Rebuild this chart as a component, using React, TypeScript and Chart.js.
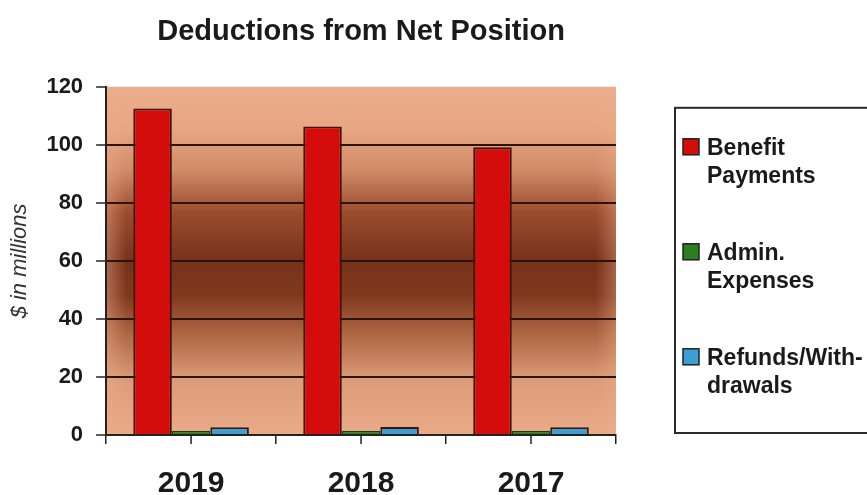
import React, { useEffect, useRef } from 'react';
import { Chart, registerables } from 'chart.js';

Chart.register(...registerables);

const categories = ['2019', '2018', '2017'];
const benefitPayments = [112.5, 106.3, 99.2];
const adminExpenses = [1.4, 1.4, 1.4];
const refundsWithdrawals = [2.7, 2.8, 2.7];
const seriesNames = ['Benefit Payments', 'Admin. Expenses', 'Refunds/Withdrawals'];
const legendLines = [
  ['Benefit', 'Payments'],
  ['Admin.', 'Expenses'],
  ['Refunds/With-', 'drawals'],
];
const yTicks = [0, 20, 40, 60, 80, 100, 120];
const chartTitle = 'Deductions from Net Position';
const yAxisTitle = '$ in millions';

const FONT = '"Liberation Sans", Arial, Helvetica, sans-serif';
const INK = '#1a1a1a';
const BAR_EDGE = '#3a160c';
const COLORS = ['#d40c0c', '#2e7d22', '#3b9fd6'];

const plotBackground = {
  id: 'plotBackground',
  beforeDraw(chart: any) {
    const { ctx, chartArea: a } = chart;
    if (!a) return;
    ctx.save();
    const g = ctx.createLinearGradient(0, a.top, 0, a.bottom);
    g.addColorStop(0, '#ebad8c');
    g.addColorStop(0.12, '#e8a783');
    g.addColorStop(0.24, '#d08b67');
    g.addColorStop(0.36, '#9c4c2e');
    g.addColorStop(0.5, '#76321a');
    g.addColorStop(0.6, '#80391d');
    g.addColorStop(0.72, '#b26a47');
    g.addColorStop(0.84, '#dc9b78');
    g.addColorStop(1, '#eaab89');
    ctx.fillStyle = g;
    ctx.fillRect(a.left, a.top, a.right - a.left, a.bottom - a.top);
    const h = ctx.createLinearGradient(a.left, 0, a.right, 0);
    h.addColorStop(0, 'rgba(236,172,138,0.45)');
    h.addColorStop(0.04, 'rgba(236,172,138,0)');
    h.addColorStop(0.96, 'rgba(236,172,138,0)');
    h.addColorStop(1, 'rgba(236,172,138,0.4)');
    ctx.fillStyle = h;
    ctx.fillRect(a.left, a.top, a.right - a.left, a.bottom - a.top);
    ctx.restore();
  },
};

const centerTicks = {
  id: 'centerTicks',
  afterDraw(chart: any) {
    const x = chart.scales.x;
    const { ctx } = chart;
    ctx.save();
    ctx.strokeStyle = '#222';
    ctx.lineWidth = 1.5;
    categories.forEach((_, i) => {
      const px = x.getPixelForValue(i);
      ctx.beginPath();
      ctx.moveTo(px, x.top);
      ctx.lineTo(px, x.top + 9);
      ctx.stroke();
    });
    ctx.restore();
  },
};

const boxedLegend = {
  id: 'boxedLegend',
  afterDraw(chart: any) {
    const { ctx, chartArea: a } = chart;
    const left = a.right + 59;
    const top = a.top + 21;
    const bottom = a.bottom - 2;
    const w = chart.width - left + 10;
    ctx.save();
    ctx.fillStyle = '#ffffff';
    ctx.fillRect(left, top, w, bottom - top);
    ctx.strokeStyle = '#2a2a2a';
    ctx.lineWidth = 2;
    ctx.strokeRect(left, top, w, bottom - top);
    ctx.font = `bold 23px ${FONT}`;
    ctx.textBaseline = 'alphabetic';
    ctx.textAlign = 'left';
    chart.data.datasets.forEach((ds: any, i: number) => {
      const base = top + 47 + i * 105;
      ctx.fillStyle = ds.backgroundColor;
      ctx.fillRect(left + 8, base - 16, 16, 16);
      ctx.strokeStyle = '#222';
      ctx.lineWidth = 1.5;
      ctx.strokeRect(left + 8, base - 16, 16, 16);
      ctx.fillStyle = INK;
      legendLines[i].forEach((line, j) => {
        ctx.fillText(line, left + 32, base + j * 28);
      });
    });
    ctx.restore();
  },
};

export default function App() {
  const ref = useRef<HTMLCanvasElement>(null);

  useEffect(() => {
    const seriesValues = [benefitPayments, adminExpenses, refundsWithdrawals];
    const chart = new Chart(ref.current as HTMLCanvasElement, {
      type: 'bar',
      data: {
        labels: categories,
        datasets: seriesValues.map((vals, i) => ({
          label: seriesNames[i],
          data: vals,
          backgroundColor: COLORS[i],
          borderColor: i === 1 ? '#1f3a14' : BAR_EDGE,
          borderWidth: i === 1 ? 1.2 : 2,
          categoryPercentage: 0.68,
          barPercentage: 1,
        })),
      },
      options: {
        responsive: false,
        animation: false,
        events: [],
        layout: { padding: { left: 0, right: 251, top: 0, bottom: -29 } },
        plugins: {
          legend: { display: false },
          tooltip: { enabled: false },
          title: {
            display: true,
            text: chartTitle,
            fullSize: false,
            color: INK,
            font: { family: FONT, size: 29, weight: 'bold', lineHeight: 1.2 },
            padding: { top: 15, bottom: 37 },
          },
        },
        scales: {
          x: {
            grid: {
              display: true,
              drawOnChartArea: false,
              offset: true,
              tickLength: 9,
              color: '#222',
              lineWidth: 1.5,
            },
            border: { display: true, color: '#222', width: 2 },
            ticks: {
              color: INK,
              font: { family: FONT, size: 30, weight: 'bold', lineHeight: 0.8 },
              padding: 28,
            },
          },
          y: {
            min: yTicks[0],
            max: yTicks[yTicks.length - 1],
            ticks: {
              stepSize: yTicks[1] - yTicks[0],
              color: INK,
              font: { family: FONT, size: 22, weight: 'bold', lineHeight: 1.2 },
              padding: 13,
            },
            grid: {
              color: (c: any) =>
                c.tick && (c.tick.value === yTicks[0] || c.tick.value === yTicks[yTicks.length - 1])
                  ? 'rgba(0,0,0,0)'
                  : '#2a140c',
              lineWidth: 2,
              tickLength: 10,
              tickColor: '#222',
              tickWidth: 1.5,
            },
            border: { display: true, color: '#222', width: 2 },
            title: {
              display: true,
              text: yAxisTitle,
              color: '#333',
              font: { family: FONT, size: 22, style: 'italic', weight: 'normal', lineHeight: 1.2 },
              padding: { top: 7, bottom: 0 },
            },
          },
        },
      } as any,
      plugins: [plotBackground, centerTicks, boxedLegend],
    });
    return () => chart.destroy();
  }, []);

  return (
    <div style={{ position: 'absolute', left: 0, top: 0, width: 867, height: 495, background: '#ffffff' }}>
      <canvas ref={ref} width={867} height={495} style={{ display: 'block' }} />
    </div>
  );
}
